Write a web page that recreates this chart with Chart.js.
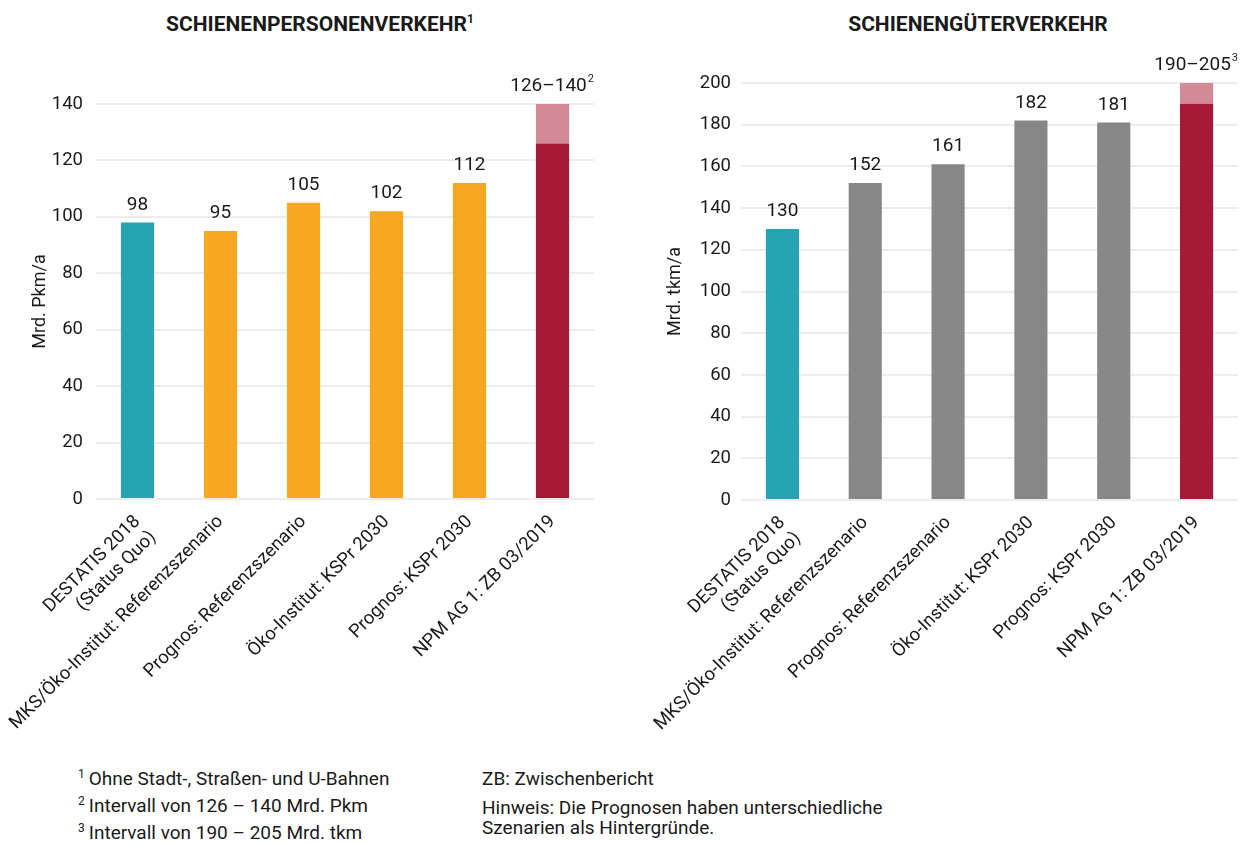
<!DOCTYPE html>
<html>
<head>
<meta charset="utf-8">
<script src="https://cdn.jsdelivr.net/npm/chart.js@4.4.0/dist/chart.umd.min.js"></script>
<style>
  body { margin: 0; background: #fff; font-family: Roboto, sans-serif; color: #1a1a1a; }
  #wrap { position: relative; width: 1247px; height: 844px; overflow: hidden; }
  .titel { position: absolute; top: 12px; font-weight: 700; font-size: 21px; text-align: center; }
  .titel sup { font-size: 12px; vertical-align: 8px; line-height: 0; }
  .box { position: absolute; top: 0; width: 620px; height: 750px; }
  .notiz { position: absolute; font-size: 19px; line-height: 20px; }
  .notiz sup { font-size: 12px; vertical-align: 7px; line-height: 0; margin-right: 4px; }
</style>
</head>
<body>
<div id="wrap">
  <div class="titel" style="left:0;width:640px">SCHIENENPERSONENVERKEHR<sup>1</sup></div>
  <div class="titel" style="left:708px;width:540px">SCHIENENGÜTERVERKEHR</div>

  <div class="box" style="left:0"><canvas id="personen" width="620" height="750"></canvas></div>
  <div class="box" style="left:627px"><canvas id="gueter" width="620" height="750"></canvas></div>

  <div class="notiz" style="left:78px;top:769px"><sup>1</sup>Ohne Stadt-, Straßen- und U-Bahnen</div>
  <div class="notiz" style="left:78px;top:796px"><sup>2</sup>Intervall von 126 – 140 Mrd. Pkm</div>
  <div class="notiz" style="left:78px;top:823px"><sup>3</sup>Intervall von 190 – 205 Mrd. tkm</div>
  <div class="notiz" style="left:482px;top:769px">ZB: Zwischenbericht</div>
  <div class="notiz" style="left:482px;top:798px">Hinweis: Die Prognosen haben unterschiedliche<br>Szenarien als Hintergründe.</div>
</div>

<script>
const kategorien = [
  ['DESTATIS 2018', '(Status Quo)'],
  'MKS/Öko-Institut: Referenzszenario',
  'Prognos: Referenzszenario',
  'Öko-Institut: KSPr 2030',
  'Prognos: KSPr 2030',
  'NPM AG 1: ZB 03/2019'
];

// Schienenpersonenverkehr in Mrd. Pkm/a
const personenWerte = [98, 95, 105, 102, 112, 126];
const personenSpanne = [null, null, null, null, null, [126, 140]];
const personenTicks = [0, 20, 40, 60, 80, 100, 120, 140];

// Schienengüterverkehr in Mrd. tkm/a
const gueterWerte = [130, 152, 161, 182, 181, 190];
const gueterSpanne = [null, null, null, null, null, [190, 205]];
const gueterTicks = [0, 20, 40, 60, 80, 100, 120, 140, 160, 180, 200];

const TEAL = '#28a3b1', ORANGE = '#f6a823', GRAU = '#878787', ROT = '#a51934', ROSA = '#d38a98';
const TEXT = '#1a1a1a';
const FONT = 'Roboto';

// Wertebeschriftung über den Säulen, bei der Spanne "von–bis" mit Fußnote
const wertLabels = {
  id: 'wertLabels',
  afterDatasetsDraw(chart, args, opts) {
    const ctx = chart.ctx;
    const area = chart.chartArea;
    const werte = chart.data.datasets[0].data;
    const spanne = chart.data.datasets[1].data;
    const balken = chart.getDatasetMeta(0).data;
    const spBalken = chart.getDatasetMeta(1).data;
    ctx.save();
    ctx.fillStyle = TEXT;
    ctx.textAlign = 'center';
    ctx.textBaseline = 'alphabetic';
    balken.forEach((bar, i) => {
      let y = bar.y;
      let txt = String(werte[i]);
      if (spanne[i]) {
        y = Math.max(spBalken[i].y, area.top);
        txt = spanne[i][0] + '–' + spanne[i][1];
      }
      ctx.font = '19px ' + FONT;
      const w = ctx.measureText(txt).width;
      if (spanne[i]) {
        ctx.textAlign = 'left';
        ctx.fillText(txt, bar.x - w / 2 - 4, y - 13);
        ctx.font = '11px ' + FONT;
        ctx.fillText(opts.hinweis, bar.x + w / 2 - 3, y - 22);
        ctx.textAlign = 'center';
      } else {
        ctx.fillText(txt, bar.x, y - 13);
      }
    });
    ctx.restore();
  }
};

function saeulen(id, werte, spanne, ticks, farben, achse, pad) {
  return new Chart(document.getElementById(id), {
    type: 'bar',
    data: {
      labels: kategorien,
      datasets: [{
        data: werte,
        backgroundColor: farben,
        grouped: false,
        categoryPercentage: 0.8,
        barPercentage: 0.5
      }, {
        data: spanne,
        backgroundColor: ROSA,
        grouped: false,
        categoryPercentage: 0.8,
        barPercentage: 0.5
      }]
    },
    options: {
      responsive: false,
      animation: false,
      layout: { padding: { top: pad.top, right: pad.right, left: 0, bottom: 0 } },
      plugins: {
        legend: { display: false },
        tooltip: { enabled: false },
        wertLabels: { hinweis: pad.hinweis }
      },
      scales: {
        x: {
          grid: { display: false },
          border: { display: false },
          ticks: {
            color: TEXT,
            font: { family: FONT, size: 18.5 },
            maxRotation: 45,
            minRotation: 45,
            padding: 4
          },
          afterFit(scale) { scale.height = pad.xHoehe; }
        },
        y: {
          min: ticks[0],
          max: ticks[ticks.length - 1],
          grid: { color: '#ececec', lineWidth: 2, drawTicks: false },
          border: { display: false },
          ticks: {
            stepSize: ticks[1] - ticks[0],
            color: TEXT,
            font: { family: FONT, size: 18.5 },
            padding: pad.tickAbstand
          },
          title: {
            display: true,
            text: achse,
            color: TEXT,
            font: { family: FONT, size: 18 },
            padding: { top: pad.titelAbstand, bottom: 0 }
          },
          afterFit(scale) { scale.width = pad.yBreite; }
        }
      }
    },
    plugins: [wertLabels]
  });
}

saeulen('personen', personenWerte, personenSpanne, personenTicks,
  [TEAL, ORANGE, ORANGE, ORANGE, ORANGE, ROT], 'Mrd. Pkm/a',
  { top: 104, right: 26, xHoehe: 251, yBreite: 96, tickAbstand: 13, titelAbstand: 30, hinweis: '2' });

saeulen('gueter', gueterWerte, gueterSpanne, gueterTicks,
  [TEAL, GRAU, GRAU, GRAU, GRAU, ROT], 'Mrd. tkm/a',
  { top: 83, right: 9, xHoehe: 250, yBreite: 114, tickAbstand: 10, titelAbstand: 38, hinweis: '3' });
</script>
</body>
</html>
